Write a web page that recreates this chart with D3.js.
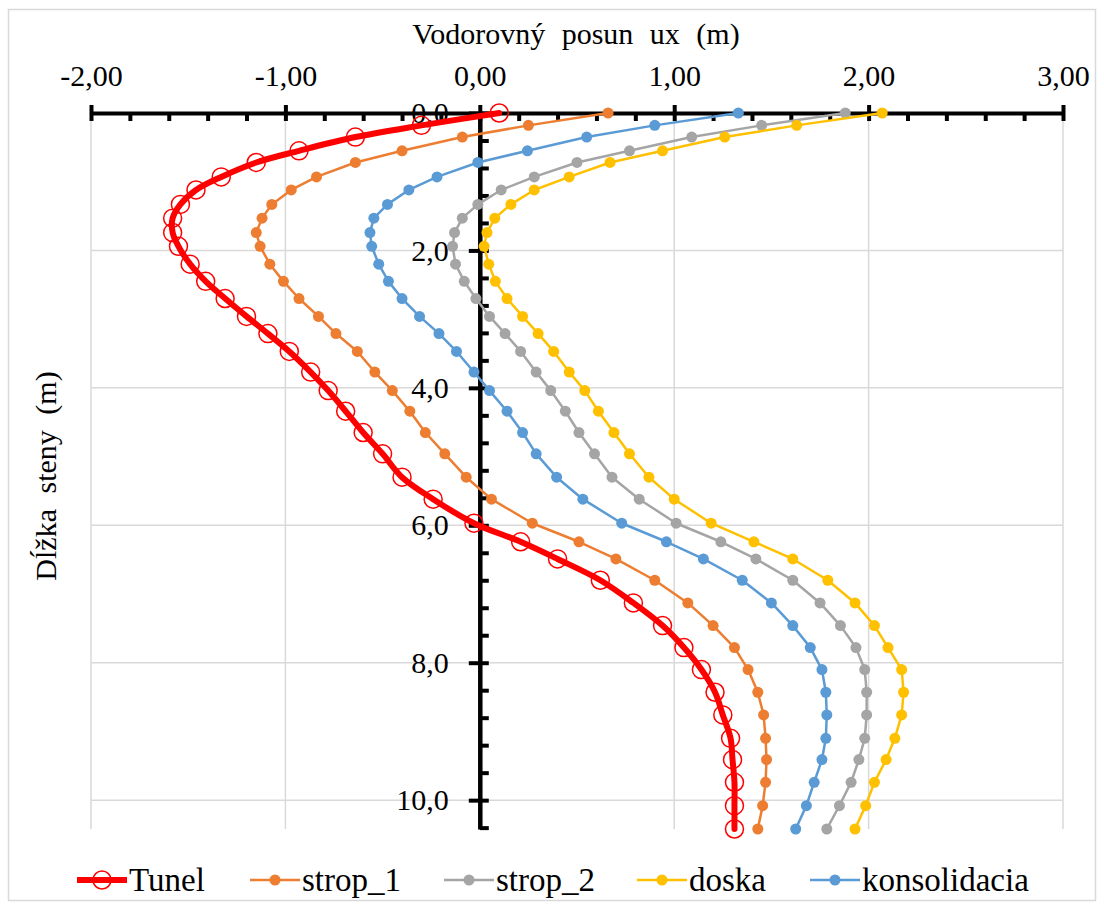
<!DOCTYPE html>
<html>
<head>
<meta charset="utf-8">
<script src="https://cdnjs.cloudflare.com/ajax/libs/d3/7.8.5/d3.min.js"></script>
<style>
  html, body { margin: 0; padding: 0; background: #fff; }
  svg { display: block; }
  svg text { font-family: "Liberation Serif", "Times New Roman", Tinos, "Nimbus Roman", "DejaVu Serif", serif !important; fill: #000; }
</style>
</head>
<body>
<svg id="chart" width="1104" height="908"></svg>
<script>
// ---- data ----
const depths = [0, 0.18, 0.35, 0.55, 0.72, 0.93, 1.12, 1.33, 1.53, 1.74, 1.94, 2.20, 2.45, 2.70, 2.96, 3.21, 3.47, 3.77, 4.04, 4.34, 4.65, 4.96, 5.30, 5.62, 5.97, 6.24, 6.49, 6.80, 7.13, 7.46, 7.78, 8.10, 8.43, 8.76, 9.10, 9.41, 9.74, 10.08, 10.42];
const tunel = [0.10, -0.30, -0.64, -0.93, -1.15, -1.33, -1.46, -1.54, -1.58, -1.58, -1.55, -1.49, -1.41, -1.31, -1.20, -1.09, -0.98, -0.87, -0.78, -0.69, -0.60, -0.50, -0.40, -0.24, -0.03, 0.21, 0.40, 0.62, 0.79, 0.94, 1.05, 1.14, 1.21, 1.25, 1.29, 1.30, 1.31, 1.31, 1.31];
const strop1 = [0.66, 0.25, -0.09, -0.40, -0.64, -0.84, -0.97, -1.07, -1.12, -1.15, -1.13, -1.08, -1.01, -0.93, -0.83, -0.74, -0.63, -0.54, -0.45, -0.36, -0.28, -0.18, -0.07, 0.06, 0.27, 0.51, 0.70, 0.90, 1.07, 1.20, 1.31, 1.38, 1.43, 1.46, 1.47, 1.475, 1.47, 1.455, 1.43];
const strop2 = [1.88, 1.45, 1.09, 0.77, 0.50, 0.28, 0.11, -0.01, -0.09, -0.13, -0.14, -0.125, -0.08, -0.02, 0.05, 0.13, 0.21, 0.29, 0.365, 0.44, 0.51, 0.59, 0.68, 0.82, 1.01, 1.24, 1.42, 1.61, 1.75, 1.855, 1.935, 1.98, 1.99, 1.99, 1.98, 1.95, 1.91, 1.85, 1.785];
const doska = [2.07, 1.63, 1.26, 0.94, 0.67, 0.46, 0.28, 0.16, 0.077, 0.037, 0.022, 0.046, 0.08, 0.14, 0.22, 0.30, 0.38, 0.46, 0.54, 0.61, 0.69, 0.77, 0.87, 1.00, 1.19, 1.41, 1.61, 1.79, 1.93, 2.03, 2.10, 2.17, 2.18, 2.17, 2.135, 2.09, 2.03, 1.985, 1.93];
const konsolidacia = [1.33, 0.90, 0.55, 0.245, -0.01, -0.22, -0.365, -0.475, -0.545, -0.565, -0.556, -0.52, -0.47, -0.40, -0.31, -0.21, -0.12, -0.03, 0.05, 0.14, 0.22, 0.29, 0.395, 0.53, 0.73, 0.96, 1.15, 1.35, 1.50, 1.61, 1.70, 1.76, 1.78, 1.785, 1.78, 1.76, 1.72, 1.68, 1.625];

const seriesNames = ["Tunel", "strop_1", "strop_2", "doska", "konsolidacia"];
const seriesColors = ["#FF0000", "#ED7D31", "#A5A5A5", "#FFC000", "#5B9BD5"];
const seriesValues = [tunel, strop1, strop2, doska, konsolidacia];

const xTicks = [-2, -1, 0, 1, 2, 3];
const xMinorTicks = d3.range(-2, 3.0001, 0.2);
const yTicks = [0, 2, 4, 6, 8, 10];
const yMinorTicks = d3.range(0, 10.42, 0.4);

const xTitle = "Vodorovný posun ux (m)";
const yTitle = "Dĺžka steny (m)";

// ---- layout ----
const svg = d3.select("#chart");
const FS = 30;
const LFS = 33;
const x = d3.scaleLinear().domain([-2, 3]).range([91, 1063]);
const y = d3.scaleLinear().domain([0, depths[depths.length - 1]]).range([113, 829]);

// border
svg.append("rect").attr("x", 8.5).attr("y", 9.5).attr("width", 1087).attr("height", 891)
  .attr("fill", "#fff").attr("stroke", "#d9d9d9").attr("stroke-width", 1.5);

// gridlines
const grid = svg.append("g");
grid.selectAll("line.v").data(xTicks).join("line")
  .attr("x1", d => x(d)).attr("x2", d => x(d))
  .attr("y1", y(0)).attr("y2", y.range()[1])
  .attr("stroke", "#d9d9d9").attr("stroke-width", 1.5);
grid.selectAll("line.h").data(yTicks.filter(d => d > 0)).join("line")
  .attr("x1", x(-2)).attr("x2", x(3))
  .attr("y1", d => y(d)).attr("y2", d => y(d))
  .attr("stroke", "#d9d9d9").attr("stroke-width", 1.5);

const commaFmt = f => v => d3.format(f)(v).replace(".", ",").replace("−", "-");

// x axis (top, at depth 0)
const gx = svg.append("g").attr("transform", `translate(0,${y(0)})`)
  .call(d3.axisTop(x).tickValues(xTicks).tickFormat(commaFmt(".2f")).tickSizeInner(8).tickSizeOuter(0).tickPadding(19));
gx.attr("font-family", null);
gx.select(".domain").attr("stroke", "#000").attr("stroke-width", 4);
gx.selectAll(".tick line").attr("y1", 8).attr("y2", -8).attr("stroke", "#000").attr("stroke-width", 4);
gx.selectAll(".tick text").attr("font-size", FS);
const gxm = svg.append("g").attr("transform", `translate(0,${y(0)})`)
  .call(d3.axisBottom(x).tickValues(xMinorTicks.filter(v => Math.abs(v - Math.round(v)) > 1e-6)).tickFormat("").tickSizeInner(8).tickSizeOuter(0));
gxm.select(".domain").remove();
gxm.selectAll(".tick line").attr("stroke", "#000").attr("stroke-width", 4);

// y axis at x = 0
const gy = svg.append("g").attr("transform", `translate(${x(0)},0)`)
  .call(d3.axisLeft(y).tickValues(yTicks).tickFormat(commaFmt(".1f")).tickSizeInner(10).tickSizeOuter(0).tickPadding(21));
gy.attr("font-family", null);
gy.select(".domain").attr("stroke", "#000").attr("stroke-width", 4.5);
gy.selectAll(".tick line").attr("x1", -11).attr("x2", 9).attr("stroke", "#000").attr("stroke-width", 4);
gy.selectAll(".tick text").attr("font-size", FS);
const gym = svg.append("g").attr("transform", `translate(${x(0)},0)`)
  .call(d3.axisRight(y).tickValues(yMinorTicks.filter(v => Math.abs(v / 2 - Math.round(v / 2)) > 1e-6)).tickFormat("").tickSizeInner(9).tickSizeOuter(0));
gym.select(".domain").remove();
gym.selectAll(".tick line").attr("stroke", "#000").attr("stroke-width", 4);

// titles
svg.append("text").attr("x", 576).attr("y", 44).attr("text-anchor", "middle")
  .attr("font-size", FS).attr("word-spacing", 9).text(xTitle);
svg.append("text").attr("transform", `translate(56,${476}) rotate(-90)`).attr("text-anchor", "middle")
  .attr("font-size", FS).attr("word-spacing", 8).text(yTitle);

// series
const plot = svg.append("g");
seriesValues.forEach((vals, i) => {
  const pts = vals.map((v, j) => [v, depths[j]]);
  const isTunel = i === 0;
  const line = d3.line().x(d => x(d[0])).y(d => y(d[1]))
    .curve(isTunel ? d3.curveCatmullRom.alpha(0.5) : d3.curveLinear);
  const g = plot.append("g");
  g.append("path").datum(pts).attr("d", line).attr("fill", "none")
    .attr("stroke", seriesColors[i]).attr("stroke-width", isTunel ? 6 : 2.5)
    .attr("stroke-linejoin", "round").attr("stroke-linecap", "round");
  g.selectAll("circle").data(pts).join("circle")
    .attr("cx", d => x(d[0])).attr("cy", d => y(d[1]))
    .attr("r", isTunel ? 9 : 5.5)
    .attr("fill", isTunel ? "none" : seriesColors[i])
    .attr("stroke", isTunel ? seriesColors[i] : "none")
    .attr("stroke-width", 1.5);
});

// legend
const legendX = [77, 250, 444, 637, 810];
const legendY = 880;
const lg = svg.append("g");
seriesNames.forEach((name, i) => {
  const isTunel = i === 0;
  const x0 = legendX[i];
  const g = lg.append("g");
  g.append("line").attr("x1", x0).attr("x2", x0 + 50).attr("y1", legendY).attr("y2", legendY)
    .attr("stroke", seriesColors[i]).attr("stroke-width", isTunel ? 6 : 2.5);
  g.append("circle").attr("cx", x0 + 25).attr("cy", legendY).attr("r", isTunel ? 9 : 5.5)
    .attr("fill", isTunel ? "none" : seriesColors[i])
    .attr("stroke", isTunel ? seriesColors[i] : "none").attr("stroke-width", 1.5);
  g.append("text").attr("x", x0 + 52).attr("y", legendY).attr("dy", "0.33em")
    .attr("font-size", LFS).text(name);
});
</script>
</body>
</html>
